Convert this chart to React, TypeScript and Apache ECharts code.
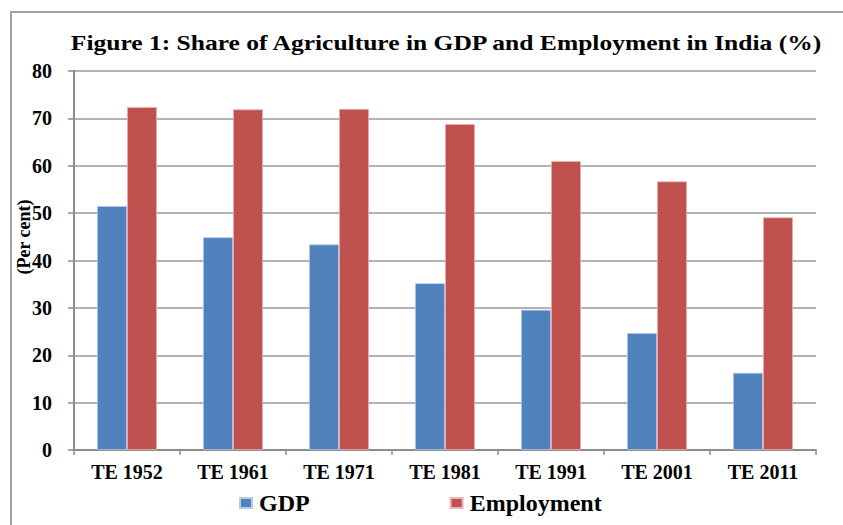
import React, { useEffect, useRef } from "react";
import * as echarts from "echarts";

const categories = ["TE 1952", "TE 1961", "TE 1971", "TE 1981", "TE 1991", "TE 2001", "TE 2011"];
const gdpValues = [51.5, 44.9, 43.4, 35.2, 29.6, 24.7, 16.3];
const employmentValues = [72.4, 71.9, 72.0, 68.8, 61.0, 56.7, 49.1];
const yTicks = { min: 0, max: 80, interval: 10 };
const titleText = "Figure 1: Share of Agriculture in GDP and Employment in India (%)";
const yAxisTitle = "(Per cent)";

const SERIF = "'Liberation Serif', 'Times New Roman', serif";

export default function App() {
  const ref = useRef<HTMLDivElement>(null);
  useEffect(() => {
    document.body.style.margin = "0";
    if (!ref.current) return;
    const chart = echarts.init(ref.current, undefined, { renderer: "svg" });
    chart.setOption({
      animation: false,
      backgroundColor: "#ffffff",
      legend: {
        left: 239,
        top: 491,
        padding: 0,
        itemWidth: 12,
        itemHeight: 10,
        itemGap: 140,
        icon: "rect",
        data: ["GDP", "Employment"],
        textStyle: { fontFamily: SERIF, fontWeight: "bold", fontSize: 24, color: "#000", padding: [0, 0, 0, 2] },
      },
      grid: { left: 74, right: 27, top: 71, bottom: 75, containLabel: false },
      xAxis: {
        type: "category",
        data: categories,
        boundaryGap: true,
        axisLine: { show: true, lineStyle: { color: "#8c8c8c", width: 2 } },
        axisTick: { show: true, length: 5, alignWithLabel: false, lineStyle: { color: "#8c8c8c", width: 1.5 } },
        axisLabel: { fontFamily: SERIF, fontWeight: "bold", fontSize: 20, color: "#000", margin: 12 },
      },
      yAxis: {
        type: "value",
        min: yTicks.min,
        max: yTicks.max,
        interval: yTicks.interval,
        axisLine: { show: true, lineStyle: { color: "#8c8c8c", width: 2 } },
        axisTick: { show: true, length: 6, lineStyle: { color: "#8c8c8c", width: 1.5 } },
        splitLine: { show: true, lineStyle: { color: "#9a9a9a", width: 1.5 } },
        axisLabel: { fontFamily: SERIF, fontWeight: "bold", fontSize: 20, color: "#000", margin: 22 },
      },
      graphic: [
        {
          type: "rect",
          shape: { x: 11, y: 12, width: 900, height: 530 },
          style: { fill: "none", stroke: "#a0a0a0", lineWidth: 2 },
          silent: true,
        },
        {
          type: "text",
          x: 446,
          y: 43,
          scaleX: 1.16,
          style: {
            text: titleText,
            fontFamily: SERIF,
            fontWeight: "bold",
            fontSize: 22,
            fill: "#000",
            align: "center",
            verticalAlign: "middle",
          },
          z: 10,
        },
        {
          type: "text",
          x: 24,
          y: 237,
          rotation: Math.PI / 2,
          style: {
            text: yAxisTitle,
            fontFamily: SERIF,
            fontWeight: "bold",
            fontSize: 18,
            fill: "#000",
            align: "center",
            verticalAlign: "middle",
          },
          z: 10,
        },
      ],
      series: [
        {
          name: "GDP",
          type: "bar",
          data: gdpValues,
          barWidth: 30,
          barGap: "0%",
          itemStyle: { color: "#4F81BD", borderColor: "#b8cce4", borderWidth: 0.8 },
        },
        {
          name: "Employment",
          type: "bar",
          data: employmentValues,
          barWidth: 30,
          barGap: "0%",
          itemStyle: { color: "#C0504D", borderColor: "#e6b9b8", borderWidth: 0.8 },
        },
      ],
    });
    return () => chart.dispose();
  }, []);
  return <div ref={ref} style={{ width: 843, height: 525 }} />;
}
